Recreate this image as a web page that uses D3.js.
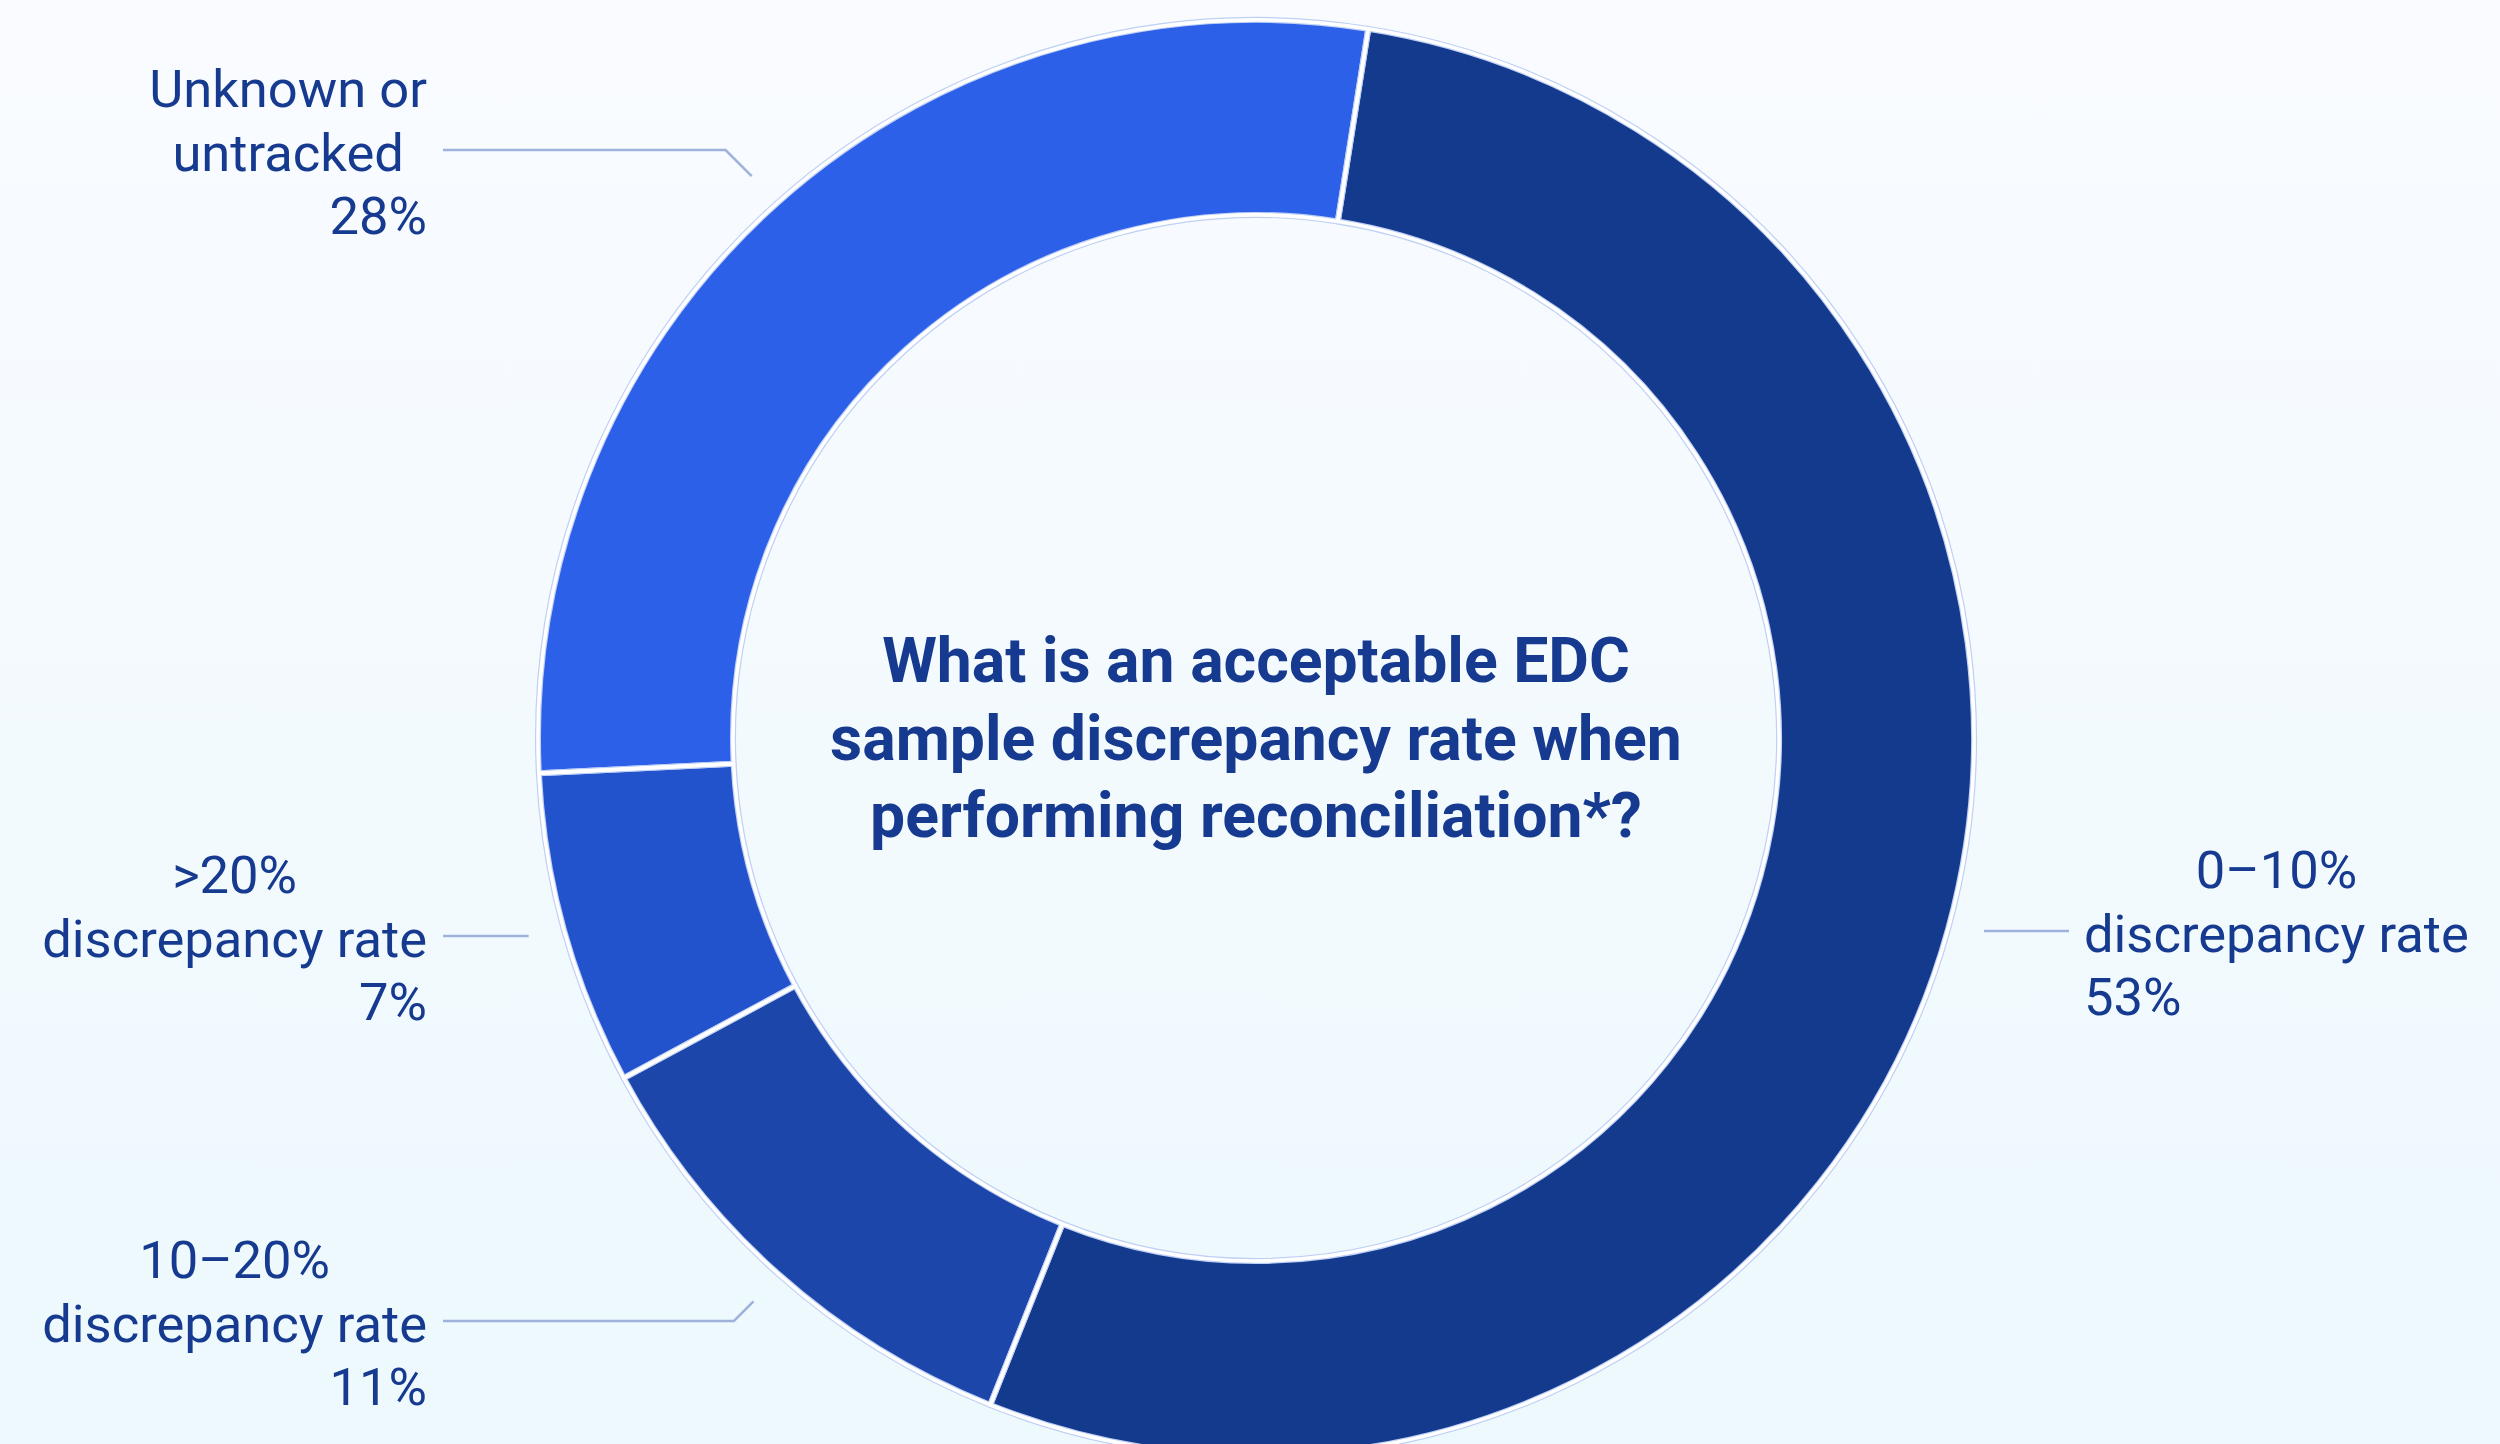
<!DOCTYPE html>
<html>
<head>
<meta charset="utf-8">
<script src="https://cdn.jsdelivr.net/npm/d3@7"></script>
<style>
  html, body { margin: 0; padding: 0; }
  body { width: 2500px; height: 1444px; overflow: hidden; }
  svg { display: block; }
</style>
</head>
<body>
<svg id="chart" width="2500" height="1444"></svg>
<script>
// Survey answers, clockwise from the top
const categories = ["0–10% discrepancy rate", "10–20% discrepancy rate", ">20% discrepancy rate", "Unknown or untracked"];
const values = [53, 11, 7, 28];
const labelLines = [["0–10%", "discrepancy rate"], ["10–20%", "discrepancy rate"], [">20%", "discrepancy rate"], ["Unknown or", "untracked"]];
const sliceColors = ["#133a8d", "#1c46a9", "#2353cc", "#2d60e9"];
const titleLines = ["What is an acceptable EDC", "sample discrepancy rate when", "performing reconciliation*?"];

// Callout layout: which side each label sits on and the height of its leader
const labelSide = ["right", "left", "left", "left"];
const leaderY = [931, 1321, 936, 150];

const W = 2500, H = 1444;
const cx = 1256, cy = 738;
const outerR = 718, innerR = 523, leaderR = 755;
const textColor = "#163a8f";
const lineColor = "#9fb2db";
const font = "Roboto, 'Noto Sans', sans-serif";

const svg = d3.select("#chart");

// Soft vertical background wash
const defs = svg.append("defs");
const grad = defs.append("linearGradient").attr("id", "bg").attr("x1", 0).attr("y1", 0).attr("x2", 0).attr("y2", 1);
grad.append("stop").attr("offset", "0%").attr("stop-color", "#f9fbff");
grad.append("stop").attr("offset", "100%").attr("stop-color", "#edf9fd");
svg.append("rect").attr("width", W).attr("height", H).attr("fill", "url(#bg)");

const data = categories.map((c, i) => ({ category: c, value: values[i], lines: labelLines[i], color: sliceColors[i], side: labelSide[i], ly: leaderY[i] }));

const startAngle = 9.0 * Math.PI / 180;
const pie = d3.pie().sort(null).value(d => d.value).startAngle(startAngle).endAngle(startAngle + 2 * Math.PI);
const arcs = pie(data);
const arc = d3.arc().innerRadius(innerR).outerRadius(outerR);

const g = svg.append("g").attr("transform", `translate(${cx},${cy})`);

// Slice fills
g.selectAll("path.fill").data(arcs).join("path")
  .attr("class", "fill")
  .attr("d", arc)
  .attr("fill", d => d.data.color);

// Pale blue edging with a white seam between slices
g.selectAll("path.edge").data(arcs).join("path")
  .attr("class", "edge")
  .attr("d", arc)
  .attr("fill", "none")
  .attr("stroke", "#bfd0f5")
  .attr("stroke-width", 6)
  .attr("stroke-linejoin", "round");
g.selectAll("path.seam").data(arcs).join("path")
  .attr("class", "seam")
  .attr("d", arc)
  .attr("fill", "none")
  .attr("stroke", "#ffffff")
  .attr("stroke-width", 3.6)
  .attr("stroke-linejoin", "round");

// Centre question
svg.append("text")
  .attr("x", cx)
  .attr("text-anchor", "middle")
  .attr("font-family", font)
  .attr("font-weight", 700)
  .attr("font-size", 62.5)
  .attr("fill", textColor)
  .selectAll("tspan").data(titleLines).join("tspan")
  .attr("x", cx)
  .attr("y", (d, i) => 682 + i * 77.5)
  .text(d => d);

// Callouts
const textEdge = { left: 427, right: 2084 };
const lineEdge = { left: 443, right: 2069 };
const lineGap = 63.5;
const fontSize = 52.5;

arcs.forEach(a => {
  const d = a.data;
  const mid = (a.startAngle + a.endAngle) / 2;
  const px = cx + leaderR * Math.sin(mid);
  const py = cy - leaderR * Math.cos(mid);
  const dir = d.side === "left" ? -1 : 1;
  const rise = Math.abs(py - d.ly);
  // Near-level leaders run straight; others bend at 45° onto the label line
  const pts = rise < 12
    ? [[px, d.ly], [lineEdge[d.side], d.ly]]
    : [[px, py], [px + dir * rise, d.ly], [lineEdge[d.side], d.ly]];

  svg.append("path")
    .attr("d", d3.line()(pts))
    .attr("fill", "none")
    .attr("stroke", lineColor)
    .attr("stroke-width", 2.5);

  const block = svg.append("g")
    .attr("font-family", font)
    .attr("font-size", fontSize)
    .attr("fill", textColor);

  const midBase = d.ly + 20.5;
  const lineNodes = d.lines.map((t, i) => block.append("text")
    .attr("y", midBase + (i - 1) * lineGap)
    .attr("text-anchor", "middle")
    .text(t));
  const widest = d3.max(lineNodes, n => n.node().getComputedTextLength());
  const centerX = d.side === "left" ? textEdge.left - widest / 2 : textEdge.right + widest / 2;
  lineNodes.forEach(n => n.attr("x", centerX));

  block.append("text")
    .attr("x", textEdge[d.side])
    .attr("y", midBase + lineGap)
    .attr("text-anchor", d.side === "left" ? "end" : "start")
    .text(d.value + "%");
});
</script>
</body>
</html>
